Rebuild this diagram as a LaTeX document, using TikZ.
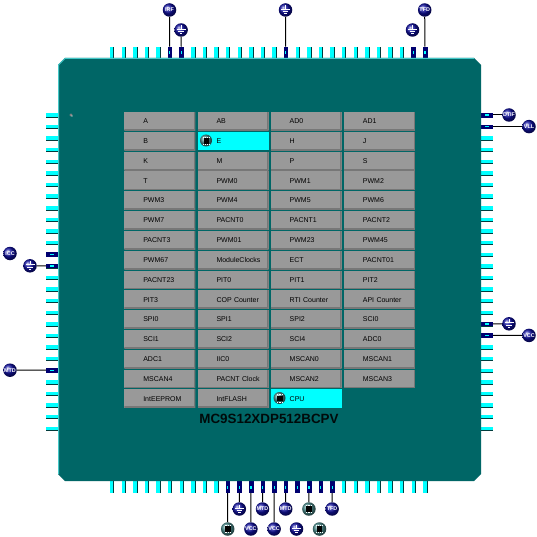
\documentclass[tikz,border=0pt]{standalone}
\usepackage{fontspec}
\setmainfont{Liberation Sans}
\definecolor{chipteal}{HTML}{006666}
\definecolor{chipedge}{HTML}{44C8C8}
\definecolor{pincyan}{HTML}{00FFFF}
\definecolor{pindark}{HTML}{003C3C}
\definecolor{cellgray}{HTML}{999999}
\definecolor{cellshade}{HTML}{777777}
\definecolor{navyball}{HTML}{1010A0}
\definecolor{navypin}{HTML}{000070}
\definecolor{iconball}{HTML}{4F9090}
\tikzset{
  x=1pt,y=-1pt,
  cellbox/.style={rectangle,inner xsep=0pt,inner ysep=0pt,minimum height=18.4pt,text height=5pt,text depth=0pt,text width=71pt,
    align=left,font=\fontsize{7}{8}\selectfont,text=black,fill=#1,
    path picture={\draw[cellshade,line width=2.6pt]
      (path picture bounding box.south west)--(path picture bounding box.south east)--(path picture bounding box.north east);}},
  cyanbox/.style={rectangle,inner xsep=0pt,inner ysep=0pt,minimum height=18.4pt,text height=5pt,text depth=0pt,text width=71pt,
    align=left,font=\fontsize{7}{8}\selectfont,text=black,fill=pincyan},
  ball/.style={circle,minimum size=13.5pt,inner sep=0pt,shading=ball,ball color=navyball,text=white,
    font=\bfseries\fontsize{5.4}{6}\selectfont},
  chipball/.style={circle,minimum size=13.5pt,inner sep=0pt,shading=ball,ball color=iconball},
  wire/.style={black,line width=1pt},
  pinv/.style={rectangle,inner sep=0pt,minimum width=3.4pt,minimum height=11.5pt,fill=pincyan},
  pinh/.style={rectangle,inner sep=0pt,minimum width=12pt,minimum height=3.4pt,fill=pincyan},
  pics/gnd/.style={code={
    \draw[white,line width=.9pt] (0,-4.5)--(0,-1) (-4.5,-1)--(4.5,-1) (-2.8,1.2)--(2.8,1.2) (-1.2,3.4)--(1.2,3.4);}},
  pics/chipmark/.style={code={
    \fill[black] (-3.8,-3.8) rectangle (3.8,3.8);
    \foreach \t in {-3.5,-1.2,1.2,3.5}{
      \fill[white] (\t-.6,-5.4) rectangle (\t+.6,-4.2);
      \fill[white] (\t-.6,4.2) rectangle (\t+.6,5.4);}
  }},
}
\begin{document}
\begin{tikzpicture}
\useasboundingbox (0,0) rectangle (537,537);
\fill[white] (0,0) rectangle (537,537);
% pins
\foreach \n in {0,...,27}{
  \pgfmathsetmacro{\px}{111.7+11.6*\n}
  \pgfmathsetmacro{\py}{115+11.6*\n}
  \node[pinv] (T\n) at (\px,52.5) {};
  \fill[pindark] (\px+1.7,47) rectangle (\px+2.7,58);
  \node[pinv] (B\n) at (\px,487) {};
  \fill[pindark] (\px+1.7,481) rectangle (\px+2.7,493);
  \node[pinh] (L\n) at (52,\py) {};
  \fill[pindark] (46,\py+1.7) rectangle (58,\py+2.7);
  \node[pinh] (R\n) at (487,\py) {};
  \fill[pindark] (481,\py+1.7) rectangle (493,\py+2.7);
}
% connected pins
\foreach \p in {T5,T6,T15,T26,T27,B10,B11,B12,B13,B14,B15,B16,B17,B18,B19}{
  \fill[navypin] ([xshift=-2pt]\p.north) rectangle ([xshift=2.6pt]\p.south);
  \fill[pincyan] ([xshift=-.5pt,yshift=1.5pt]\p.center) rectangle ([xshift=.7pt,yshift=-1.5pt]\p.center);
}
\foreach \p in {L12,L13,L22,R0,R1,R18,R19}{
  \fill[navypin] ([yshift=2pt]\p.west) rectangle ([yshift=-2.6pt]\p.east);
  \fill[pincyan] ([xshift=-2pt,yshift=.5pt]\p.center) rectangle ([xshift=2pt,yshift=-.7pt]\p.center);
}
% chip body
\fill[chipteal] (65,58)--(474,58)--(481,65)--(481,474)--(474,481)--(65,481)--(58,474)--(58,65)--cycle;
\draw[chipedge,line width=1pt] (58.5,474)--(58.5,65)--(65,58.5)--(474,58.5);
\fill[gray] (71,115) circle (1.6pt);
\fill[white] (72,116) circle (.6pt);
% module grid
\def\colA{159.8}\def\colB{233}\def\colC{306.2}\def\colD{379.4}
\foreach \r/\a/\b/\c/\d in {
 0/A/AB/AD0/AD1,
 1/B/E/H/J,
 2/K/M/P/S,
 3/T/PWM0/PWM1/PWM2,
 4/PWM3/PWM4/PWM5/PWM6,
 5/PWM7/PACNT0/PACNT1/PACNT2,
 6/PACNT3/PWM01/PWM23/PWM45,
 7/PWM67/ModuleClocks/ECT/PACNT01,
 8/PACNT23/PIT0/PIT1/PIT2,
 9/PIT3/COP Counter/RTI Counter/API Counter,
 10/SPI0/SPI1/SPI2/SCI0,
 11/SCI1/SCI2/SCI4/ADC0,
 12/ADC1/IIC0/MSCAN0/MSCAN1,
 13/MSCAN4/PACNT Clock/MSCAN2/MSCAN3}{
  \pgfmathsetmacro{\ry}{121.3+19.8*\r}
  \node[cellbox=cellgray] (a\r) at (\colA,\ry) {\hspace*{19pt}\a};
  \ifnum\r=1
    \node[cyanbox] (b\r) at (\colB,\ry) {\hspace*{19pt}\b};
  \else
    \node[cellbox=cellgray] (b\r) at (\colB,\ry) {\hspace*{19pt}\b};
  \fi
  \node[cellbox=cellgray] (c\r) at (\colC,\ry) {\hspace*{19pt}\c};
  \node[cellbox=cellgray] (d\r) at (\colD,\ry) {\hspace*{19pt}\d};
}
\node[cellbox=cellgray] (a14) at (\colA,398.5) {\hspace*{19pt}IntEEPROM};
\node[cellbox=cellgray] (b14) at (\colB,398.5) {\hspace*{19pt}IntFLASH};
\node[cyanbox] (c14) at (\colC,398.5) {\hspace*{19pt}CPU};
\node[chipball,minimum size=12pt] (iconE) at (206,140.5) {};
\pic[scale=.75] at (206.5,141) {chipmark};
\node[chipball,minimum size=12pt] (iconCPU) at (279.5,398) {};
\pic[scale=.75] at (280,398.5) {chipmark};
\node[font=\bfseries\fontsize{13.4}{15}\selectfont,text=black!90!chipteal,inner sep=0pt] (title) at (269,419) {MC9S12XDP512BCPV};
% balls: top
\node[ball] (n1) at (169.5,10) {IRF};
\node[ball] (n2) at (181.1,30) {};
\pic at (181.1,30) {gnd};
\node[ball] (n3) at (285.5,10) {};
\pic at (285.5,10) {gnd};
\node[ball] (n4) at (412.5,30) {};
\pic at (412.5,30) {gnd};
\node[ball] (n5) at (424.7,10) {TFD};
\draw[wire] (n1)--(T5);
\draw[wire] (n2)--(T6);
\draw[wire] (n3)--(T15);
\draw[wire] (n5)--(T27);
% balls: right
\node[ball] (e1) at (509,115) {DTIF};
\node[ball] (e2) at (529,126.6) {VLL};
\node[ball] (e3) at (509,323.8) {};
\pic at (509,323.8) {gnd};
\node[ball] (e4) at (529,335.4) {VCC};
\draw[wire] (e1)--(R0);
\draw[wire] (e2)--(R1);
\draw[wire] (e3)--(R18);
\draw[wire] (e4)--(R19);
% balls: left
\node[ball] (w1) at (10,253.5) {ICC};
\node[ball] (w2) at (30,265.8) {};
\pic at (30,265.8) {gnd};
\node[ball] (w3) at (10,370.2) {MTD};
\draw[wire] (w2)--(L13);
\draw[wire] (w3)--(L22);
% balls: bottom
\node[chipball] (s1) at (227.7,529) {};
\pic[scale=.75] at (227.7,529) {chipmark};
\node[ball] (s2) at (239.3,509) {};
\pic at (239.3,509) {gnd};
\node[ball] (s3) at (250.9,529) {VCC};
\node[ball] (s4) at (262.5,509) {MTD};
\node[ball] (s5) at (274.1,529) {VCC};
\node[ball] (s6) at (285.7,509) {MTD};
\node[ball] (s7) at (296.5,529) {};
\pic at (296.5,529) {gnd};
\node[chipball] (s8) at (308.9,509) {};
\pic[scale=.75] at (308.9,509) {chipmark};
\node[chipball] (s9) at (319.5,529) {};
\pic[scale=.75] at (319.5,529) {chipmark};
\node[ball] (s10) at (332.1,509) {TFD};
\draw[wire] (s1)--(B10);
\draw[wire] (s2)--(B11);
\draw[wire] (s3)--(B12);
\draw[wire] (s4)--(B13);
\draw[wire] (s5)--(B14);
\draw[wire] (s6)--(B15);
\draw[wire] (s8)--(B17);
\draw[wire] (s10)--(B19);
\end{tikzpicture}
\end{document}
